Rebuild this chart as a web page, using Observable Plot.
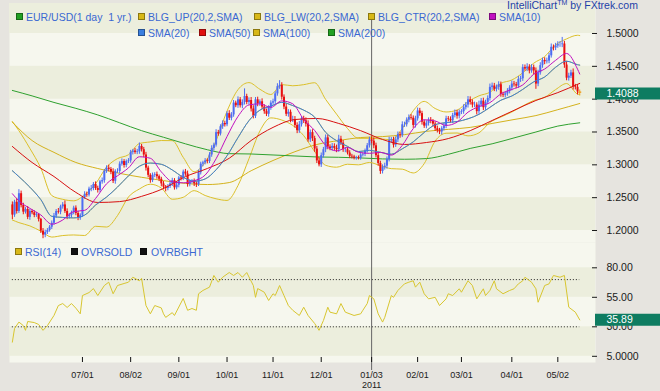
<!DOCTYPE html>
<html><head><meta charset="utf-8">
<script src="https://cdn.jsdelivr.net/npm/d3@7"></script>
<script src="https://cdn.jsdelivr.net/npm/@observablehq/plot@0.6"></script>
<style>
html,body{margin:0;padding:0;background:#e6e4df;}
#wrap{position:relative;width:660px;height:391px;overflow:hidden;background:#e6e4df;font-family:"Liberation Sans",Arial,sans-serif;}
#wrap svg{position:absolute;left:0;}
.lg{position:absolute;font-size:10.5px;line-height:1;color:#3a68d2;white-space:pre;}
.sq{position:absolute;width:5px;height:5px;border:1px solid rgba(0,0,0,0.35);}
#brand{position:absolute;left:507px;top:0px;font-size:10.5px;line-height:1;color:#1f3fa8;white-space:pre;}
#brand sup{font-size:7px;line-height:0;}
</style></head>
<body><div id="wrap"></div>
<script>
// ---------- DATA ----------
const startDate = "2010-05-17";           // trading day 0
const firstOpen = 1.2390;
const close = [
1.2235,1.2430,1.2290,1.2560,1.2380,1.2280,1.2320,1.2200,1.2290,1.2270,
1.2230,1.2240,1.2170,1.1990,1.1930,1.1970,1.2000,1.2050,1.2110,1.2220,
1.2290,1.2280,1.2360,1.2390,1.2290,1.2210,1.2230,1.2270,1.2340,1.2260,
1.2190,1.2230,1.2500,1.2550,1.2540,1.2630,1.2640,1.2700,1.2640,1.2610,
1.2740,1.2760,1.2900,1.2950,1.2930,1.2890,1.2750,1.2900,1.2900,1.3010,
1.3050,1.2990,1.3050,1.3060,1.3190,1.3210,1.3190,1.3200,1.3280,1.3230,
1.3150,1.2950,1.2840,1.2760,1.2840,1.2850,1.2820,1.2780,1.2710,1.2660,
1.2640,1.2670,1.2710,1.2760,1.2650,1.2690,1.2800,1.2790,1.2890,1.2860,
1.2700,1.2740,1.2750,1.2710,1.2700,1.2880,1.3010,1.3030,1.3060,1.3050,
1.3150,1.3250,1.3300,1.3490,1.3470,1.3580,1.3630,1.3610,1.3780,1.3710,
1.3760,1.3940,1.3900,1.3990,1.3900,1.3950,1.4040,1.3950,1.3980,1.3850,
1.3740,1.3990,1.3930,1.3960,1.3880,1.3810,1.3770,1.3870,1.3940,1.3960,
1.4080,1.4190,1.4210,1.4030,1.3880,1.3770,1.3800,1.3680,1.3690,1.3600,
1.3520,1.3610,1.3700,1.3670,1.3620,1.3380,1.3490,1.3400,1.3240,1.3060,
1.3000,1.3140,1.3230,1.3410,1.3270,1.3250,1.3280,1.3250,1.3230,1.3390,
1.3330,1.3230,1.3230,1.3180,1.3130,1.3120,1.3100,1.3110,1.3100,1.3150,
1.3160,1.3210,1.3290,1.3380,1.3360,1.3290,1.3140,1.3020,1.2900,1.2960,
1.2980,1.3080,1.3370,1.3380,1.3300,1.3380,1.3460,1.3450,1.3610,1.3610,
1.3680,1.3720,1.3710,1.3600,1.3700,1.3820,1.3780,1.3650,1.3590,1.3630,
1.3680,1.3660,1.3620,1.3550,1.3520,1.3500,1.3550,1.3590,1.3700,1.3690,
1.3670,1.3750,1.3790,1.3740,1.3800,1.3810,1.3870,1.3910,1.3990,1.3950,
1.3910,1.3910,1.3810,1.3910,1.3970,1.3870,1.3950,1.4010,1.4180,1.4200,
1.4150,1.4180,1.4220,1.4070,1.4060,1.4080,1.4120,1.4170,1.4230,1.4220,
1.4200,1.4300,1.4310,1.4480,1.4460,1.4490,1.4430,1.4480,1.4430,1.4230,
1.4400,1.4510,1.4590,1.4570,1.4580,1.4660,1.4790,1.4780,1.4810,1.4830,
1.4830,1.4840,1.4520,1.4320,1.4350,1.4400,1.4190,1.4180,1.4110,1.4088];
const wickUpPips = [
45,30,60,62,40,35,28,45,30,25, 30,35,20,15,40,35,30,25,35,40,
30,45,25,35,60,40,30,25,30,35, 30,25,20,40,35,30,45,30,40,35,
25,40,30,35,45,30,50,25,40,35, 40,30,25,35,30,25,40,35,53,30,
35,40,30,25,35,30,40,25,30,35, 25,30,40,35,30,45,25,35,30,40,
45,30,25,35,30,40,30,25,35,30, 35,40,30,45,35,30,40,35,30,45,
35,40,30,45,35,40,117,35,40,45, 50,35,40,30,45,35,40,30,35,40,
35,45,72,40,35,45,40,35,50,45, 40,50,35,40,45,50,40,45,35,40,
45,40,35,45,40,35,45,40,50,60, 45,40,35,30,35,30,25,20,25,30,
25,30,35,40,45,50,40,45,35,40, 45,40,50,35,40,45,40,35,45,40,
35,40,45,35,40,45,40,35,30,40, 35,40,30,35,40,35,30,45,40,35,
40,35,45,40,35,30,45,40,50,45, 40,45,35,60,40,45,35,40,50,45,
40,35,45,40,35,30,40,35,45,40, 35,45,40,45,40,50,35,45,40,45,
40,45,35,40,45,40,50,35,40,45, 45,100,40,50,45,40,60,35,40,30];
const wickDownPips = [
70,35,40,30,35,40,30,35,45,30, 35,30,40,35,55,40,30,25,35,30,
35,30,40,35,30,45,35,40,30,35, 40,35,30,25,35,30,40,35,30,40,
30,35,40,30,35,40,35,45,30,35, 30,40,35,30,35,40,30,35,40,35,
40,45,35,40,30,35,40,35,45,40, 52,35,30,40,35,30,40,35,30,35,
40,35,30,40,45,30,35,40,30,35, 30,35,40,30,35,30,40,35,30,35,
40,35,30,40,35,45,40,35,40,45, 40,35,45,40,35,40,35,45,40,35,
40,35,40,45,40,35,45,40,35,40, 45,40,35,40,45,35,40,45,50,40,
31,40,35,45,40,35,40,35,45,40, 35,40,45,30,35,30,25,30,25,30,
30,35,30,35,40,45,35,40,45,39, 40,45,35,40,45,35,40,45,35,40,
35,40,30,45,40,35,40,45,35,40, 40,35,45,40,35,40,45,35,40,35,
35,40,35,45,40,35,40,35,45,40, 45,40,50,40,35,45,40,35,40,45,
35,40,45,40,35,40,35,40,45,35, 40,35,45,40,35,40,45,35,60,80,
40,35,40,45,35,40,35,45,40,35, 40,45,50,40,45,35,50,40,45,38];

// smooth indicator lines, sampled on trading days
const sma200 = [1.4133,1.405,1.395,1.386,1.376,1.364,1.352,1.342,1.332,1.323,1.317,1.3165,1.315,1.3135,1.312,1.3115,1.3105,1.309,1.3085,1.3095,1.316,1.325,1.332,1.341,1.350,1.359,1.364];
const sma100 = [1.365,1.337,1.319,1.3036,1.2944,1.287,1.281,1.276,1.2716,1.270,1.273,1.291,1.3066,1.320,1.331,1.337,1.3416,1.343,1.346,1.351,1.354,1.357,1.363,1.369,1.375,1.384,1.3934];
const sma50 = [1.328,1.3036,1.2822,1.258,1.2427,1.244,1.252,1.264,1.282,1.2944,1.31,1.337,1.357,1.369,1.3706,1.363,1.352,1.3386,1.331,1.334,1.340,1.352,1.3675,1.383,1.398,1.410,1.424];
const sma20 = [1.291,1.282,1.266,1.247,1.2216,1.2199,1.2192,1.2234,1.2388,1.2509,1.2661,1.2832,1.2978,1.3027,1.3008,1.2922,1.2810,1.2751,1.2785,1.2925,1.3138,1.3415,1.3672,1.3833,1.3893,1.3952,1.3902,1.3833,1.3726,1.3495,1.3368,1.3281,1.3202,1.3220,1.3191,1.3162,1.3244,1.3350,1.3492,1.3610,1.3643,1.3659,1.3701,1.3769,1.3875,1.3984,1.4048,1.4149,1.4264,1.4338,1.4486,1.4578,1.4525,1.4518];
const sma10 = [1.256,1.245,1.2337,1.2237,1.2096,1.2160,1.2288,1.2307,1.2488,1.2711,1.2833,1.2953,1.3123,1.3100,1.2893,1.2744,1.2726,1.2758,1.2844,1.3092,1.3431,1.3737,1.3912,1.3929,1.3874,1.3974,1.3929,1.3692,1.3523,1.3297,1.3212,1.3264,1.3192,1.3175,1.3190,1.3148,1.3297,1.3552,1.3686,1.3668,1.3600,1.3650,1.3802,1.3887,1.3947,1.4080,1.4148,1.4217,1.4380,1.4459,1.4592,1.4696,1.4457,1.4383];
const blgUp = [1.366,1.352,1.325,1.295,1.2532,1.2475,1.2452,1.2544,1.2712,1.2965,1.3095,1.3154,1.3324,1.3349,1.3370,1.3368,1.3114,1.2895,1.3037,1.3367,1.3818,1.4145,1.4252,1.4151,1.4071,1.4222,1.4204,1.4221,1.4250,1.3997,1.3772,1.3553,1.3404,1.3404,1.3395,1.3382,1.3554,1.3824,1.3966,1.3858,1.3805,1.3833,1.3961,1.4051,1.4105,1.4240,1.4292,1.4401,1.4548,1.4648,1.4826,1.4918,1.4973,1.4968];
const blgLw = [1.216,1.212,1.207,1.199,1.1900,1.1923,1.1932,1.1924,1.2064,1.2053,1.2227,1.2510,1.2632,1.2705,1.2646,1.2476,1.2506,1.2607,1.2533,1.2483,1.2458,1.2685,1.3092,1.3515,1.3715,1.3682,1.3600,1.3445,1.3202,1.2993,1.2964,1.3009,1.3000,1.3036,1.2987,1.2942,1.2934,1.2876,1.3018,1.3362,1.3481,1.3485,1.3441,1.3487,1.3645,1.3728,1.3804,1.3897,1.3980,1.4028,1.4146,1.4238,1.4077,1.4068];

const rsiDays = [1,2,4,6,7,8,11,13,15,17,20,22,24,26,28,30,32,33,36,38,40,43,45,47,49,52,54,56,59,60,62,64,66,69,70,71,74,75,79,81,83,85,86,88,91,93,95,97,100,102,104,106,108,111,112,113,116,118,120,121,123,125,127,129,132,134,136,139,141,143,145,146,149,151,153,157,160,161,163,164,166,168,170,171,174,175,177,180,182,184,185,187,189,191,194,196,199,200,202,205,206,209,211,213,216,217,219,221,222,225,228,230,232,234,235,238,240,241,244,246,248,251,253,255,258,260];
const rsiVals = [17,28.6,34,31,27,34.5,33.6,32,27,31,39.6,48,49.7,46.4,49.7,45.8,41,56.5,59,62.4,56.5,65,67.8,58,65,66.7,67.8,72,69,71,48,41,48,46,41,38,42,39.6,54,44,45.5,44,58,60.8,63.6,73.5,67.8,72,76,73.5,76,72,76,65,55,62.4,59.3,52.3,58,56.5,65,56.5,48,44,39.6,46.6,39.6,32.8,27,35.3,46.6,42.4,41,49.7,42.4,39.6,41,44,49.7,56.5,53.7,41,34,38,56.5,55,60.8,66.4,67.8,69,63.6,67.8,58,53.7,55,48,53.7,58,56.5,62.2,59.3,69,65,53.7,62.2,56.5,60.8,69,62.2,58,60.8,62.2,66.4,69,72,67.8,62.2,50.8,65,66.4,73.5,72,73.5,46.6,42.4,35.89];

const priceTicks = [1.20,1.25,1.30,1.35,1.40,1.45,1.50];
const rsiTicks = [5,30,55,80];
const rsiTickLabels = ["5.0000","30.00","55.00","80.00"];
const rsiLevels = [30,70];
const xTickDates = ["2010-07-01","2010-08-02","2010-09-01","2010-10-01","2010-11-01","2010-12-01","2011-01-03","2011-02-01","2011-03-01","2011-04-01","2011-05-02"];
const xTickLabels = ["07/01","08/02","09/01","10/01","11/01","12/01","01/03\n2011","02/01","03/01","04/01","05/02"];
const markerDate = "2011-01-03";

// ---------- BUILD ----------
const tradingDates = [];
for (let d = new Date(startDate + "T00:00:00Z"); tradingDates.length < 320; d.setUTCDate(d.getUTCDate() + 1)) {
  const wd = d.getUTCDay();
  if (wd !== 0 && wd !== 6) tradingDates.push(d.toISOString().slice(0, 10));
}
const dayOf = s => tradingDates.indexOf(s);
const xTickIdx = xTickDates.map(dayOf);
const tickLabel = new Map(xTickIdx.map((d, k) => [d, xTickLabels[k]]));
const markerIdx = dayOf(markerDate);

const days = d3.range(1, close.length + 1);
const candles = days.map((d, k) => {
  const o = k === 0 ? firstOpen : close[k - 1];
  const c = close[k];
  return {i: d, open: o, close: c, high: Math.max(o, c) + wickUpPips[k] / 1e4, low: Math.min(o, c) - wickDownPips[k] / 1e4, last: k === close.length - 1};
});
const upC = candles.filter(d => !d.last && d.close >= d.open);
const dnC = candles.filter(d => !d.last && d.close < d.open);
const lastC = candles.filter(d => d.last);

const longDays = [1, ...d3.range(10, 261, 10)];
const shortDays = [1, 4, ...d3.range(9, 260, 5), 260];
const series = (ds, vals) => ds.map((d, k) => ({i: d, v: vals[k]}));
const rsi = series(rsiDays, rsiVals);
const lastClose = close[close.length - 1];
const lastRsi = rsiVals[rsiVals.length - 1];

const LIGHT = "#f6f7ee", DARK = "#eceedd", TEAL = "#0e7c61";
const BLUE = "#4d6cf2", RED = "#e81010", GOLD = "#dcc02a";
const FONT = "'Liberation Sans', Arial, sans-serif";
const xDomain = [-0.3, 267.2];
const priceDomain = [1.18173, 1.54568];
const rsiDomain = [-0.25, 101.44];

function bands(ticks, top) {
  const edges = [...ticks, top];
  const out = [];
  for (let k = 0; k < edges.length - 1; k += 2) out.push({lo: edges[k], hi: edges[k + 1]});
  return out;
}
const lineOpts = (stroke) => ({x: "i", y: "v", stroke, strokeWidth: 1, curve: "monotone-x"});

const price = Plot.plot({
  width: 660, height: 242,
  marginLeft: 9, marginRight: 65, marginTop: 3, marginBottom: 0,
  x: {type: "linear", domain: xDomain, axis: null, label: null},
  y: {domain: priceDomain, axis: null, label: null},
  style: {background: "transparent", fontFamily: FONT, overflow: "visible"},
  marks: [
    Plot.frame({fill: LIGHT, stroke: null}),
    Plot.rect(bands(priceTicks, priceDomain[1]), {y1: "lo", y2: "hi", fill: DARK}),
    Plot.ruleX([markerIdx], {stroke: "#666", strokeWidth: 1, insetTop: 15, insetBottom: -1}),
    Plot.line(series(shortDays, blgUp), lineOpts(GOLD)),
    Plot.line(series(shortDays, blgLw), lineOpts(GOLD)),
    Plot.line(series(shortDays, sma20), lineOpts(GOLD)),
    Plot.line(series(longDays, sma100), lineOpts("#d4b21c")),
    Plot.line(series(longDays, sma200), lineOpts("#2fa12f")),
    Plot.ruleX(upC, {x: "i", y1: "low", y2: "high", stroke: BLUE, strokeWidth: 1}),
    Plot.ruleX(dnC, {x: "i", y1: "low", y2: "high", stroke: RED, strokeWidth: 1}),
    Plot.ruleX(upC, {x: "i", y1: "open", y2: "close", stroke: BLUE, strokeWidth: 2}),
    Plot.ruleX(dnC, {x: "i", y1: "open", y2: "close", stroke: RED, strokeWidth: 2}),
    Plot.ruleX(lastC, {x: "i", y1: "low", y2: "high", stroke: "#f0a020", strokeWidth: 1}),
    Plot.ruleX(lastC, {x: "i", y1: "open", y2: "close", stroke: "#f0a020", strokeWidth: 3}),
    Plot.line(series(longDays, sma50), lineOpts("#d81010")),
    Plot.line(series(shortDays, sma20), lineOpts("#3b7fe0")),
    Plot.line(series(shortDays, sma10), lineOpts("#c010c0")),
    Plot.axisY(priceTicks, {anchor: "right", label: null, tickSize: 5, tickPadding: 10, dx: -4, tickFormat: d => d.toFixed(4), fontSize: 10.5, fill: "#1a1a1a", stroke: "#1a1a1a"}),
    Plot.tickY([lastClose], {y: d => d, stroke: TEAL, strokeWidth: 12, insetLeft: 586, insetRight: -65}),
    Plot.text([lastClose], {y: d => d, text: d => d.toFixed(4), frameAnchor: "right", dx: 11, textAnchor: "start", fill: "white", fontSize: 10.5})
  ]
});
price.style.top = "0px";

const osc = Plot.plot({
  width: 660, height: 149,
  marginLeft: 9, marginRight: 65, marginTop: 0, marginBottom: 29,
  x: {type: "linear", domain: xDomain, axis: null, label: null},
  y: {domain: rsiDomain, axis: null, label: null},
  style: {background: "transparent", fontFamily: FONT, overflow: "visible"},
  marks: [
    Plot.frame({fill: LIGHT, stroke: null}),
    Plot.rect(bands(rsiTicks, rsiDomain[1]), {y1: "lo", y2: "hi", fill: DARK}),
    Plot.ruleY(rsiLevels, {y: d => d, x1: days[0], x2: days[days.length - 1], stroke: "#222", strokeWidth: 1, strokeDasharray: "1,2"}),
    Plot.ruleX([markerIdx], {stroke: "#666", strokeWidth: 1, insetBottom: -8}),
    Plot.line(rsi, {x: "i", y: "v", stroke: "#d8c630", strokeWidth: 1}),
    Plot.ruleX(xTickIdx, {x: d => d, insetTop: 115, stroke: "#111", strokeWidth: 1}),
    Plot.axisX(xTickIdx, {anchor: "bottom", label: null, tickSize: 0, tickPadding: 9, tickFormat: d => tickLabel.get(d), fontSize: 9, fill: "#1a1a1a", lineHeight: 1.05}),
    Plot.axisY(rsiTicks, {anchor: "right", label: null, tickSize: 5, tickPadding: 10, dx: -4, tickFormat: d => rsiTickLabels[rsiTicks.indexOf(d)], fontSize: 10.5, fill: "#1a1a1a", stroke: "#1a1a1a"}),
    Plot.tickY([lastRsi], {y: d => d, stroke: TEAL, strokeWidth: 12, insetLeft: 586, insetRight: -65}),
    Plot.text([lastRsi], {y: d => d, text: d => d.toFixed(2), frameAnchor: "right", dx: 11, textAnchor: "start", fill: "white", fontSize: 10.5})
  ]
});
osc.style.top = "242px";

const wrap = document.getElementById("wrap");
wrap.appendChild(price);
wrap.appendChild(osc);

// ---------- LEGENDS ----------
const legendItems = [
  {sq: 16, tx: 26, top: 13, color: "#22a022", label: "EUR/USD(1 day  1 yr.)"},
  {sq: 138, tx: 148, top: 13, color: "#d8b818", label: "BLG_UP(20,2,SMA)"},
  {sq: 254, tx: 264, top: 13, color: "#d8b818", label: "BLG_LW(20,2,SMA)"},
  {sq: 368, tx: 378, top: 13, color: "#d8b818", label: "BLG_CTR(20,2,SMA)"},
  {sq: 489, tx: 499, top: 13, color: "#c010c0", label: "SMA(10)"},
  {sq: 138, tx: 148, top: 29, color: "#3b7fe0", label: "SMA(20)"},
  {sq: 199, tx: 209, top: 29, color: "#e01010", label: "SMA(50)"},
  {sq: 253, tx: 263, top: 29, color: "#d8b818", label: "SMA(100)"},
  {sq: 328, tx: 338, top: 29, color: "#22a022", label: "SMA(200)"},
  {sq: 15, tx: 25, top: 248, color: "#d8b818", label: "RSI(14)"},
  {sq: 71, tx: 81, top: 248, color: "#111", label: "OVRSOLD"},
  {sq: 140, tx: 151, top: 248, color: "#111", label: "OVRBGHT"}
];
for (const it of legendItems) {
  const s = document.createElement("div");
  s.className = "sq";
  s.style.left = it.sq + "px"; s.style.top = it.top + "px"; s.style.background = it.color;
  wrap.appendChild(s);
  const t = document.createElement("div");
  t.className = "lg";
  t.style.left = it.tx + "px"; t.style.top = (it.top - 1) + "px";
  t.textContent = it.label;
  wrap.appendChild(t);
}
const brand = document.createElement("div");
brand.id = "brand";
brand.innerHTML = "IntelliChart<sup>TM</sup> by FXtrek.com";
wrap.appendChild(brand);
</script>
</body></html>
